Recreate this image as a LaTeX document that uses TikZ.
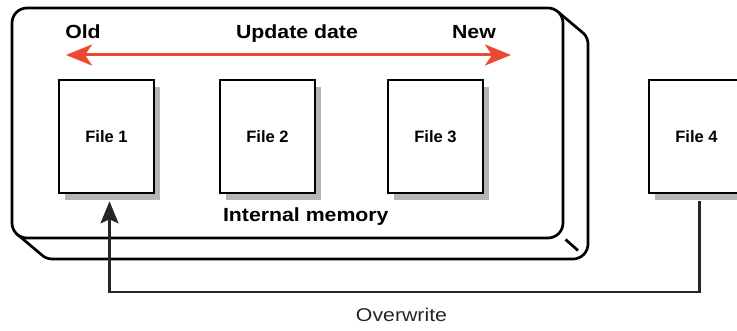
\documentclass[tikz,border=0pt]{standalone}
\usepackage{fontspec}
\setmainfont{Liberation Sans}
\newfontfamily\headfont{Liberation Sans}[FakeStretch=1.12]
\newfontfamily\notefont{Liberation Sans}[FakeStretch=1.15]
\usetikzlibrary{arrows.meta,shadows}
\definecolor{arrowred}{RGB}{236,72,50}
\definecolor{shadowgray}{RGB}{181,181,186}
\definecolor{linegray}{RGB}{38,38,38}
\begin{document}
\begin{tikzpicture}[x=1pt,y=-1pt,
    memline/.style={line width=2.7pt,line join=round},
    filebox/.style={draw,line width=2.7pt,fill=white,inner sep=0pt,
      minimum width=95pt,minimum height=113pt,
      font=\bfseries\fontsize{16.5}{20}\selectfont,
      drop shadow={shadow xshift=6pt,shadow yshift=-7pt,fill=shadowgray,opacity=1}},
    headlabel/.style={anchor=base,inner sep=0pt,font=\headfont\bfseries\fontsize{19}{23}\selectfont},
    datearrow/.style={draw=arrowred,line width=3pt,
      {Stealth[length=26pt,width=21pt,inset=7pt]}-{Stealth[length=26pt,width=21pt,inset=7pt]}},
    overwrite/.style={draw=linegray,line width=2.2pt,-{Stealth[length=22pt,width=18pt,inset=4pt]}}]
  \useasboundingbox (0,0) rectangle (737,331);
  \clip (0,0) rectangle (737,331);
  % internal memory, drawn as a thick card
  \draw[memline] (558.6,12.4) -- (583.6,33.4) arc (-45:0:15) -- (588,244)
    arc (0:90:15) -- (52,259) arc (90:135:15) -- (16.4,233.6);
  \draw[memline] (565.5,239.5) -- (578,250.5);
  \draw[memline,fill=white,rounded corners=15pt] (12,8) rectangle (563,238);
  % update date
  \node[headlabel] (old) at (83,39) {Old};
  \node[headlabel] (update) at (297,39) {Update date};
  \node[headlabel] (new) at (474,39) {New};
  \coordinate (oldend) at (66,55);
  \coordinate (newend) at (511,55);
  \draw[datearrow] (oldend) -- (newend);
  % files
  \node[filebox] (f1) at (106.5,136.5) {File 1};
  \node[filebox] (f2) at (267.5,136.5) {File 2};
  \node[filebox] (f3) at (435.5,136.5) {File 3};
  \node[filebox] (f4) at (696.5,136.5) {File 4};
  \node[headlabel] (mem) at (305.8,221.7) {Internal memory};
  % overwrite
  \coordinate (ovline) at (400,292);
  \draw[overwrite] ([xshift=3pt,yshift=-7pt]f4.south) |- (ovline)
    -| ([xshift=3pt,yshift=-7pt]f1.south);
  \node[anchor=base,inner sep=0pt,text=linegray,font=\notefont\fontsize{18.5}{22}\selectfont]
    (ovlabel) at (401.5,321.7) {Overwrite};
\end{tikzpicture}
\end{document}
